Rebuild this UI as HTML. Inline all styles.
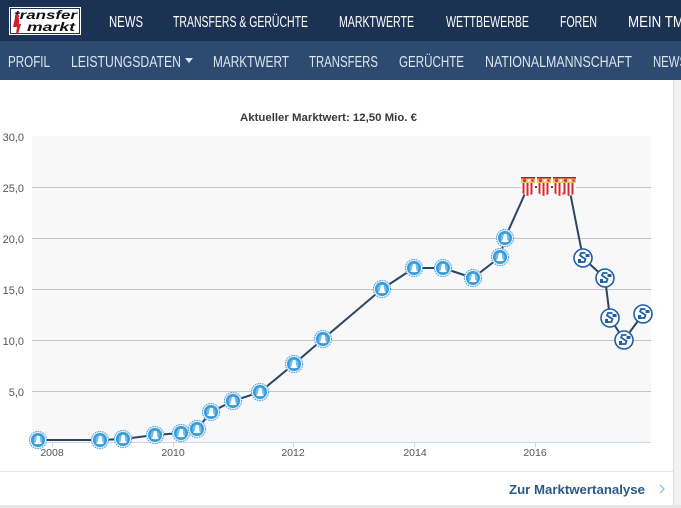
<!DOCTYPE html>
<html><head><meta charset="utf-8"><style>
html,body{margin:0;padding:0;background:#fff;}
svg{display:block;}
text{font-family:"Liberation Sans",sans-serif;}
</style></head><body>
<svg width="681" height="508" viewBox="0 0 681 508" xmlns="http://www.w3.org/2000/svg">
<defs>
<g id="kyiv">
<circle r="9" fill="#dff0fb"/>
<circle r="8.6" fill="none" stroke="#4a9fd8" stroke-width="1" stroke-dasharray="1.5 1"/>
<circle r="7" fill="#3a9ad8"/>
<circle r="4.6" fill="#6cc0ee"/>
<path d="M-2.5 3 L-1 -4 L1.5 -4 L2.6 3 Z" fill="#fff"/>
<rect x="-3.5" y="2.5" width="7" height="1.5" fill="#fff"/>
</g>
<g id="s04">
<circle r="9" fill="#fff" stroke="#1f5fa5" stroke-width="1.6"/>
<path d="M2.5 -5 L-2 -5 L-3 -2.5 L2.5 1 L1.5 4 L-3 4" fill="none" stroke="#1f5fa5" stroke-width="1.8"/>
<rect x="2.5" y="-4" width="4" height="3" fill="#1f5fa5"/>
<rect x="-5" y="1" width="3" height="4" fill="#1f5fa5"/>
</g>
<clipPath id="shieldclip"><path d="M-7 -9 L7 -9 L7 3 Q7 8 0 10 Q-7 8 -7 3 Z"/></clipPath>
<g id="sev">
<g clip-path="url(#shieldclip)">
<rect x="-7" y="-9" width="14" height="20" fill="#fff"/>
<rect x="-5.5" y="-3" width="2" height="14" fill="#d9272e"/>
<rect x="-1.5" y="-3" width="2" height="14" fill="#d9272e"/>
<rect x="2.5" y="-3" width="2" height="14" fill="#d9272e"/>
<rect x="-7" y="-9" width="14" height="6" fill="#e9c268"/>
<rect x="-7" y="-9" width="14" height="1.5" fill="#c8102e"/>
<circle cx="-3.5" cy="-5.5" r="1.6" fill="#b7462b"/>
<circle cx="1" cy="-5.5" r="1.4" fill="#fff"/>
<circle cx="4.5" cy="-5.5" r="1.4" fill="#d44"/>
</g>
</g>
</defs>

<!-- top nav -->
<rect x="0" y="0" width="681" height="41" fill="#1b3253"/>
<rect x="0" y="41" width="681" height="39" fill="#2d4b71"/>
<!-- logo -->
<rect x="9" y="7" width="72" height="28" fill="#fff"/>
<rect x="10.5" y="8.5" width="69" height="25" fill="none" stroke="#1b3253" stroke-width="1"/>
<text x="14" y="19" font-size="12" font-weight="bold" font-style="italic" fill="#111" textLength="63" lengthAdjust="spacingAndGlyphs">transfer</text>
<text x="27" y="31" font-size="12" font-weight="bold" font-style="italic" fill="#111" textLength="48" lengthAdjust="spacingAndGlyphs">markt</text>
<path d="M15 18 L19 18 L19 24 L21 24 L18 34 L16 34 L17 27 L13 27 L14 22 Z" fill="#d0202e"/>
<circle cx="17" cy="16" r="2" fill="#d0202e"/>

<g fill="#fff" font-size="16">
<text x="109" y="27" textLength="34" lengthAdjust="spacingAndGlyphs">NEWS</text>
<text x="173" y="27" textLength="135" lengthAdjust="spacingAndGlyphs">TRANSFERS &amp; GERÜCHTE</text>
<text x="339" y="27" textLength="75" lengthAdjust="spacingAndGlyphs">MARKTWERTE</text>
<text x="446" y="27" textLength="83" lengthAdjust="spacingAndGlyphs">WETTBEWERBE</text>
<text x="560" y="27" textLength="37" lengthAdjust="spacingAndGlyphs">FOREN</text>
<text x="628" y="27" textLength="56" lengthAdjust="spacingAndGlyphs">MEIN TM</text>
</g>
<g fill="#dde5ee" font-size="16">
<text x="8" y="67" textLength="42" lengthAdjust="spacingAndGlyphs">PROFIL</text>
<text x="71" y="67" textLength="110" lengthAdjust="spacingAndGlyphs">LEISTUNGSDATEN</text>
<path d="M185 58 L193 58 L189 63 Z" fill="#dde5ee"/>
<text x="213" y="67" textLength="76" lengthAdjust="spacingAndGlyphs">MARKTWERT</text>
<text x="309" y="67" textLength="69" lengthAdjust="spacingAndGlyphs">TRANSFERS</text>
<text x="399" y="67" textLength="65" lengthAdjust="spacingAndGlyphs">GERÜCHTE</text>
<text x="485" y="67" textLength="147" lengthAdjust="spacingAndGlyphs">NATIONALMANNSCHAFT</text>
<text x="653" y="67" textLength="34" lengthAdjust="spacingAndGlyphs">NEWS</text>
</g>

<!-- card border right -->
<rect x="673" y="80" width="8" height="428" fill="#f2f2f2"/>
<line x1="673.5" y1="80" x2="673.5" y2="506" stroke="#dcdcdc"/>
<rect x="0" y="505" width="681" height="3" fill="#e6e6e6"/>

<!-- title -->
<text x="240" y="121" font-size="11" font-weight="bold" fill="#3a3a3a" textLength="177" lengthAdjust="spacingAndGlyphs">Aktueller Marktwert: 12,50 Mio. €</text>

<!-- plot -->
<rect x="32" y="136" width="619" height="306" fill="#f8f8f8"/>
<g stroke="#c4c4c4" stroke-width="1">
<line x1="32" y1="187.5" x2="651" y2="187.5"/>
<line x1="32" y1="238.5" x2="651" y2="238.5"/>
<line x1="32" y1="289.5" x2="651" y2="289.5"/>
<line x1="32" y1="340.5" x2="651" y2="340.5"/>
<line x1="32" y1="391.5" x2="651" y2="391.5"/>
</g>
<line x1="32" y1="442.5" x2="651" y2="442.5" stroke="#ccd6eb"/>
<g stroke="#ccd6eb">
<line x1="52.5" y1="442" x2="52.5" y2="447"/>
<line x1="173.5" y1="442" x2="173.5" y2="447"/>
<line x1="293.5" y1="442" x2="293.5" y2="447"/>
<line x1="414.5" y1="442" x2="414.5" y2="447"/>
<line x1="535.5" y1="442" x2="535.5" y2="447"/>
</g>
<g font-size="11" fill="#555" text-anchor="end">
<text x="24" y="141">30,0</text>
<text x="24" y="192">25,0</text>
<text x="24" y="243">20,0</text>
<text x="24" y="294">15,0</text>
<text x="24" y="345">10,0</text>
<text x="24" y="396">5,0</text>
</g>
<g font-size="10.5" fill="#555" text-anchor="middle">
<text x="52" y="456">2008</text>
<text x="173" y="456">2010</text>
<text x="293" y="456">2012</text>
<text x="415" y="456">2014</text>
<text x="535" y="456">2016</text>
</g>

<polyline fill="none" stroke="#2b4565" stroke-width="2" stroke-linejoin="round" points="38,440 100,440 123,439 155,435 181,433 197,429 211,412 233,401 260,392 294,364 323,339 382,289 414,268 443,268 473,278 500,257 505,238 528,187 544,187 560,187 569,187 583,258 605,278 610,318 624,340 643,314"/>

<use href="#kyiv" x="38" y="440"/>
<use href="#kyiv" x="100" y="440"/>
<use href="#kyiv" x="123" y="439"/>
<use href="#kyiv" x="155" y="435"/>
<use href="#kyiv" x="181" y="433"/>
<use href="#kyiv" x="197" y="429"/>
<use href="#kyiv" x="211" y="412"/>
<use href="#kyiv" x="233" y="401"/>
<use href="#kyiv" x="260" y="392"/>
<use href="#kyiv" x="294" y="364"/>
<use href="#kyiv" x="323" y="339"/>
<use href="#kyiv" x="382" y="289"/>
<use href="#kyiv" x="414" y="268"/>
<use href="#kyiv" x="443" y="268"/>
<use href="#kyiv" x="473" y="278"/>
<use href="#kyiv" x="500" y="257"/>
<use href="#kyiv" x="505" y="238"/>

<use href="#sev" x="528" y="186"/>
<use href="#sev" x="544" y="186"/>
<use href="#sev" x="560" y="186"/>
<use href="#sev" x="569" y="186"/>

<use href="#s04" x="583" y="258"/>
<use href="#s04" x="605" y="278"/>
<use href="#s04" x="610" y="318"/>
<use href="#s04" x="624" y="340"/>
<use href="#s04" x="643" y="314"/>

<!-- footer -->
<line x1="0" y1="471.5" x2="673" y2="471.5" stroke="#e3e3e3"/>
<text x="509" y="494" font-size="13" font-weight="bold" fill="#2a5a86" textLength="136" lengthAdjust="spacingAndGlyphs">Zur Marktwertanalyse</text>
<path d="M660 485 L664 489 L660 493" fill="none" stroke="#8fc1e3" stroke-width="1.3"/>
</svg>
</body></html>
